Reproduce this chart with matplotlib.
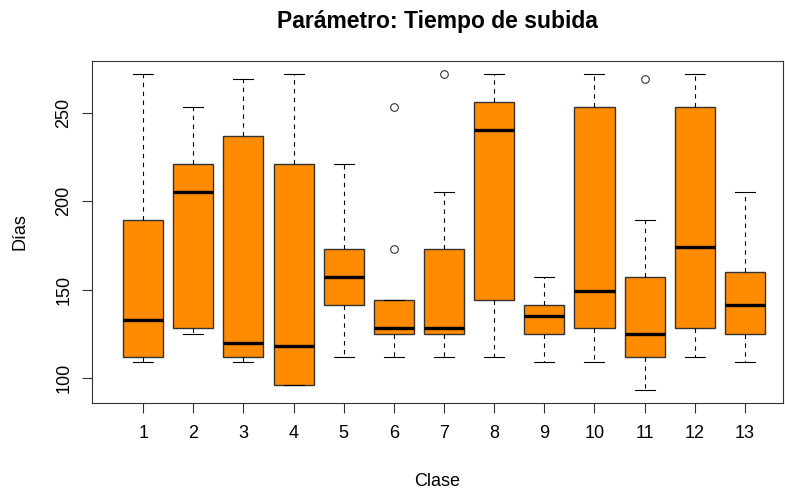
import matplotlib
matplotlib.use("Agg")
import matplotlib.pyplot as plt

plt.rcParams['font.family'] = ['Liberation Sans', 'DejaVu Sans']

# Resumen de cada caja por clase (días)
clases = [str(i) for i in range(1, 14)]
bigote_inf = [109, 125, 109, 96, 112, 112, 112, 112, 109, 109, 93, 112, 109]
cuartil_1 = [112, 128, 112, 96, 141, 125, 125, 144, 125, 128, 112, 128, 125]
mediana = [133, 205, 120, 118, 157, 128, 128, 240, 135, 149, 125, 174, 141]
cuartil_3 = [189, 221, 237, 221, 173, 144, 173, 256, 141, 253, 157, 253, 160]
bigote_sup = [272, 253, 269, 272, 221, 144, 205, 272, 157, 272, 189, 272, 205]
atipicos = [[], [], [], [], [], [173, 253], [272], [], [], [], [269], [], []]

y_ticks = [100, 150, 200, 250]

W, H = 785, 491
fig = plt.figure(figsize=(W / 100, H / 100), dpi=100)
ax = fig.add_axes([92 / W, 1 - 403 / H, (783 - 92) / W, (403 - 61) / H])

stats = []
for i in range(len(clases)):
    stats.append(dict(label=clases[i], med=mediana[i], q1=cuartil_1[i], q3=cuartil_3[i],
                      whislo=bigote_inf[i], whishi=bigote_sup[i], fliers=atipicos[i]))

edge = '#333333'
ax.bxp(stats, positions=range(1, len(clases) + 1), widths=0.8, capwidths=0.4,
       patch_artist=True,
       boxprops=dict(facecolor='#FF8C00', edgecolor=edge, linewidth=1.0),
       medianprops=dict(color='black', linewidth=2.4, solid_capstyle='butt'),
       whiskerprops=dict(color='black', linewidth=0.8, linestyle=(0, (4, 4))),
       capprops=dict(color='black', linewidth=0.8),
       flierprops=dict(marker='o', markerfacecolor='none', markeredgecolor=edge,
                       markersize=5.5, markeredgewidth=0.8))

# rango con el 4% de margen a cada lado
ax.set_xlim(-0.02, 13.76)
ax.set_ylim(85.9, 279.1)
ax.set_xticks(range(1, len(clases) + 1))
ax.set_xticklabels(clases)
ax.set_yticks(y_ticks)
ax.set_yticklabels([str(v) for v in y_ticks], rotation=90, va='center')

for s in ax.spines.values():
    s.set_color(edge)
    s.set_linewidth(0.8)
ax.tick_params(length=7.2, width=0.8, color=edge, labelsize=13)
ax.tick_params(axis='x', pad=9)
ax.tick_params(axis='y', pad=7)

fig.text(437 / W, 1 - 28 / H, 'Parámetro: Tiempo de subida', ha='center', va='baseline',
         fontsize=16.5, fontweight='bold')
fig.text(437 / W, 1 - 486 / H, 'Clase', ha='center', va='baseline', fontsize=13)
fig.text(25 / W, 1 - 232 / H, 'Días', ha='center', va='baseline', fontsize=13,
         rotation=90, rotation_mode='anchor')

fig.savefig('out.png', dpi=100)
